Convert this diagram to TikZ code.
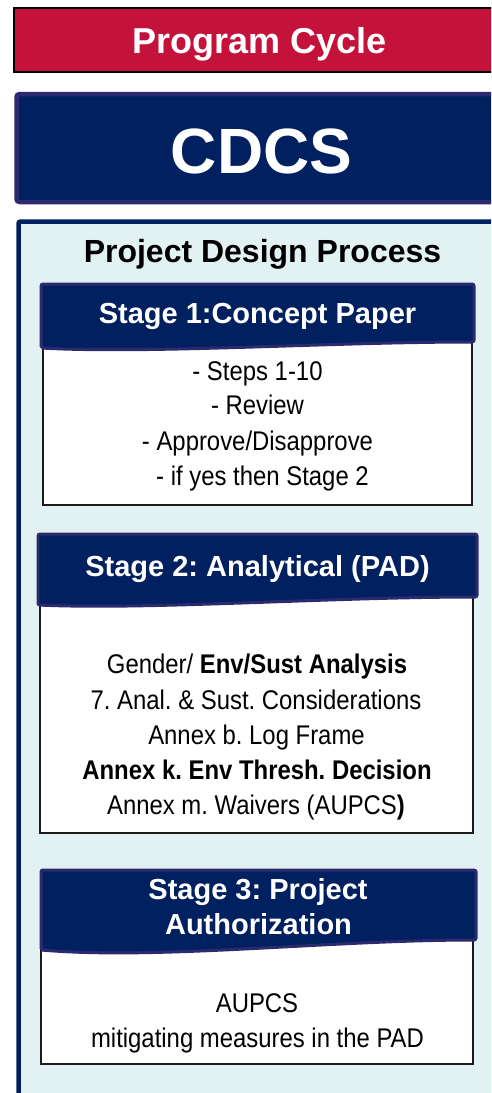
\documentclass[tikz,border=0pt]{standalone}
\usepackage{fontspec}
\setmainfont{Liberation Sans}
\newfontfamily\narrowfont{Liberation Sans}[FakeStretch=0.885]
\frenchspacing
\definecolor{pcred}{HTML}{C4123A}
\definecolor{navy}{HTML}{002060}
\definecolor{navyedge}{HTML}{2C2A6E}
\definecolor{lightbg}{HTML}{E2F2F2}
\definecolor{bodyedge}{HTML}{1A1A1A}
\tikzset{
  hdrshape/.style={fill=navy, draw=navyedge, line width=3pt, rounded corners=2pt},
  bodybox/.style={fill=white, draw=bodyedge, line width=1.5pt},
  hdrtext/.style={anchor=base, inner sep=0pt, text=white, font=\bfseries\fontsize{29}{33}\selectfont},
  bodyline/.style={anchor=base, inner sep=0pt, font=\narrowfont\fontsize{27}{32}\selectfont},
  boldline/.style={bodyline, font=\narrowfont\bfseries\fontsize{27}{32}\selectfont},
}
\begin{document}
\begin{tikzpicture}[x=1pt,y=-1pt]
\useasboundingbox (0,0) rectangle (491,1093);
\clip (0,0) rectangle (491,1093);

% Program Cycle bar
\draw[fill=pcred, draw=black, line width=2pt] (14.3,7.7) rectangle (530,71.7);
\node[anchor=base, inner sep=0pt, text=white, font=\bfseries\fontsize{36}{40}\selectfont] (pc) at (260,53.3) {Program Cycle};

% CDCS bar
\draw[fill=navy, draw=navyedge, line width=4.5pt, rounded corners=3pt] (16.5,94) rectangle (530,202);
\node[anchor=base, inner sep=0pt, text=white, font=\bfseries\fontsize{64}{70}\selectfont] (cdcs) at (261.5,173) {CDCS};

% Outer process panel
\draw[fill=lightbg, draw=navy, line width=4.5pt, rounded corners=2pt] (18.5,221.5) rectangle (530,1130);
\node[anchor=base, inner sep=0pt, font=\bfseries\fontsize{32}{36}\selectfont] (pdp) at (262.5,262.7) {Project Design Process};

% Stage 1
\draw[bodybox] (43,330) rectangle (472,505);
\draw[hdrshape] (41,348) -- (41,284) -- (474,284) -- (474,342)
  .. controls (330,342) and (150,354) .. cycle;
\node[hdrtext] (s1) at (257.5,323) {Stage 1:Concept Paper};
\node[bodyline] (s1a) at (257.5,380) {- Steps 1-10};
\node[bodyline] (s1b) at (257.5,414) {- Review};
\node[bodyline] (s1c) at (257.5,450) {- Approve/Disapprove};
\node[bodyline] (s1d) at (262.5,485) {- if yes then Stage 2};

% Stage 2
\draw[bodybox] (40,590) rectangle (473,833);
\draw[hdrshape] (38,605) -- (38,534) -- (477,534) -- (477,597)
  .. controls (330,597) and (150,610) .. cycle;
\node[hdrtext] (s2) at (257.5,576.7) {Stage 2: Analytical (PAD)};
\node[bodyline] (s2a) at (257,673) {Gender/ \textbf{Env/Sust Analysis}};
\node[bodyline] (s2b) at (256,709) {7. Anal. \& Sust. Considerations};
\node[bodyline] (s2c) at (256.5,744) {Annex b. Log Frame};
\node[boldline] (s2d) at (257,779) {Annex k. Env Thresh. Decision};
\node[bodyline] (s2e) at (256,814) {Annex m. Waivers (AUPCS\textbf{)}};

% Stage 3
\draw[bodybox] (41,930) rectangle (473,1064);
\draw[hdrshape] (41,950) -- (41,870) -- (476,870) -- (476,940)
  .. controls (330,940) and (160,960) .. cycle;
\node[hdrtext] (s3a) at (258,899) {Stage 3: Project};
\node[hdrtext] (s3b) at (258.5,934) {Authorization};
\node[bodyline] (s3c) at (257,1012) {AUPCS};
\node[bodyline] (s3d) at (257.5,1047) {mitigating measures in the PAD};
\end{tikzpicture}
\end{document}
